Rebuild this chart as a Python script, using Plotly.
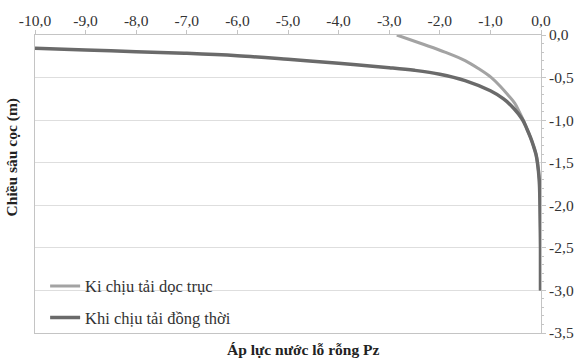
import plotly.graph_objects as go

# Pore pressure Pz versus pile depth (m)
series_names = ["Ki chịu tải dọc trục", "Khi chịu tải đồng thời"]

# Axial load only
pz_axial = [-2.85, -2.37, -1.90, -1.50, -1.22, -0.98, -0.81, -0.66, -0.52,
            -0.43, -0.35, -0.28, -0.21, -0.15, -0.10, -0.07, -0.035, -0.02,
            -0.01, -0.01]
depth_axial = [0.0, -0.1, -0.2, -0.3, -0.4, -0.5, -0.6, -0.7, -0.8, -0.9,
               -1.0, -1.1, -1.2, -1.3, -1.4, -1.5, -1.7, -2.0, -2.5, -3.0]

# Combined loading
pz_combined = [-10.0, -9.0, -8.0, -7.0, -6.0, -5.0, -4.0, -3.0, -2.5, -2.0,
               -1.5, -1.0, -0.74, -0.54, -0.37, -0.28, -0.21, -0.15, -0.10,
               -0.07, -0.035, -0.02, -0.01, -0.01]
depth_combined = [-0.157, -0.176, -0.196, -0.215, -0.243, -0.286, -0.333,
                  -0.384, -0.415, -0.46, -0.535, -0.655, -0.75, -0.86, -0.99,
                  -1.1, -1.2, -1.3, -1.4, -1.5, -1.7, -2.0, -2.5, -3.0]

x_ticks = [-10, -9, -8, -7, -6, -5, -4, -3, -2, -1, 0]
x_ticktext = ["-10,0", "-9,0", "-8,0", "-7,0", "-6,0", "-5,0", "-4,0",
              "-3,0", "-2,0", "-1,0", "0,0"]
y_ticks = [0, -0.5, -1.0, -1.5, -2.0, -2.5, -3.0, -3.5]
y_ticktext = ["0,0", "-0,5", "-1,0", "-1,5", "-2,0", "-2,5", "-3,0", "-3,5"]

x_title = "Áp lực nước lỗ rỗng Pz"
y_title = "Chiều sâu cọc (m)"

FONT = "Liberation Serif"
TEXT = "#333333"

fig = go.Figure()
fig.add_trace(go.Scatter(
    x=pz_axial, y=depth_axial, mode="lines", name=series_names[0],
    legendgroup="a", line=dict(color="#a3a3a3", width=3, shape="spline", smoothing=1.0),
))
fig.add_trace(go.Scatter(
    x=pz_combined, y=depth_combined, mode="lines", name=series_names[1],
    legendgroup="b", line=dict(color="#6a6a6a", width=3.5, shape="spline", smoothing=1.0),
))

fig.update_layout(
    width=581, height=362,
    margin=dict(l=35, r=40, t=35, b=29),
    paper_bgcolor="white", plot_bgcolor="white",
    font=dict(family=FONT, size=15, color=TEXT),
    showlegend=True,
    legend=dict(
        x=0.02, y=0.105, xanchor="left", yanchor="middle",
        bgcolor="rgba(0,0,0,0)", traceorder="grouped", tracegroupgap=7,
        font=dict(family=FONT, size=16.5, color=TEXT),
        itemwidth=30,
    ),
    xaxis=dict(
        side="top", range=[-10, 0], tickvals=x_ticks, ticktext=x_ticktext,
        automargin=False, showgrid=False, zeroline=False,
        showline=True, linecolor="#c4c4c4", linewidth=1, mirror=True,
        ticks="outside", ticklen=4, tickcolor="#c4c4c4", ticklabelstandoff=-2,
        tickfont=dict(family=FONT, size=15.5, color=TEXT),
    ),
    yaxis=dict(
        side="right", range=[-3.5, 0], tickvals=y_ticks, ticktext=y_ticktext,
        automargin=False, showgrid=True, gridcolor="#dedede", gridwidth=1, zeroline=False,
        showline=True, linecolor="#c4c4c4", linewidth=1, mirror=True,
        ticks="outside", ticklen=4, tickcolor="#c4c4c4",
        minor=dict(dtick=0.1, ticks="outside", ticklen=2, tickcolor="#c4c4c4", showgrid=False),
        tickfont=dict(family=FONT, size=15.5, color=TEXT),
    ),
    annotations=[
        dict(text="<b>" + x_title + "</b>", xref="paper", yref="paper",
             x=0.53, y=-0.02, xanchor="center", yanchor="top", showarrow=False,
             font=dict(family=FONT, size=15.5, color="#222222")),
        dict(text="<b>" + y_title + "</b>", xref="paper", yref="paper",
             x=-0.045, y=0.59, xanchor="center", yanchor="middle", showarrow=False,
             textangle=-90, font=dict(family=FONT, size=15.5, color="#222222")),
    ],
)

fig.write_html("out.html")
